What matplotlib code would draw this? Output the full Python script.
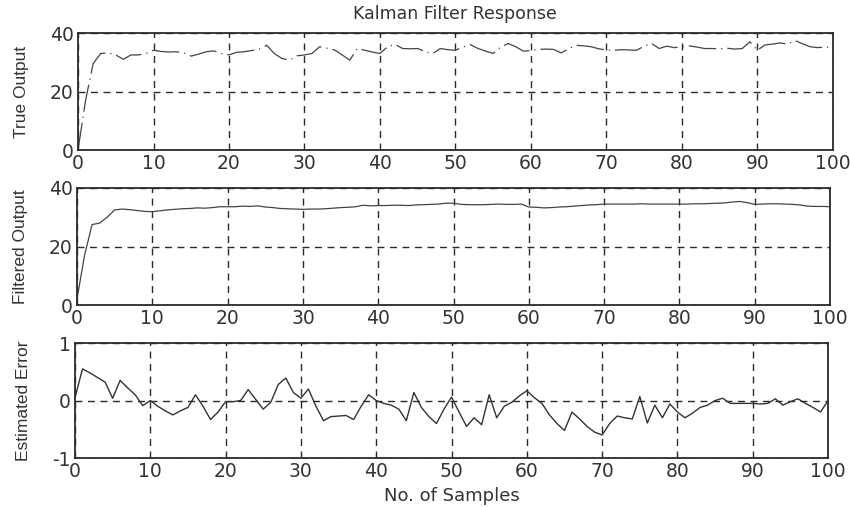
import matplotlib
matplotlib.use('Agg')
import matplotlib.pyplot as plt

plt.rcParams['font.family'] = ['DejaVu Sans']
plt.rcParams['axes.unicode_minus'] = False

# Sample index
samples = list(range(101))

# True output
true_out = [0, 17, 29.5, 33.0, 33.2, 32.5, 31.0, 32.5, 32.5, 33.0,
            34.1, 33.7, 33.5, 33.6, 33.2, 32.1, 32.8, 33.6, 33.9, 33.0,
            32.5, 33.4, 33.6, 34.0, 34.5, 35.8, 33.0, 31.3, 30.7, 32.2,
            32.5, 33.0, 35.3, 34.8, 34.2, 32.5, 30.7, 34.7, 34.1, 33.5,
            33.0, 35.3, 36.1, 34.7, 34.6, 34.7, 33.6, 33.0, 34.7, 34.3,
            34.1, 35.2, 36.0, 34.7, 33.8, 33.0, 35.2, 36.4, 35.3, 33.8,
            34.0, 34.4, 34.5, 34.4, 33.2, 34.6, 35.8, 35.6, 35.3, 34.6,
            34.2, 34.1, 34.3, 34.2, 34.1, 35.5, 36.4, 34.7, 35.5, 35.0,
            35.3, 35.6, 35.2, 34.7, 34.7, 34.6, 34.8, 34.5, 34.7, 37.0,
            34.1, 35.9, 36.2, 36.6, 36.2, 37.4, 36.3, 35.3, 35.0, 35.2,
            35.0]

# Filtered output
filtered_out = [2, 17, 27.5, 28, 30, 32.5, 32.8, 32.6, 32.3, 32.0,
                31.9, 32.2, 32.5, 32.7, 32.9, 33.0, 33.2, 33.1, 33.3, 33.6,
                33.6, 33.6, 33.8, 33.7, 33.9, 33.5, 33.3, 33.0, 32.9, 32.8,
                32.7, 32.8, 32.8, 32.9, 33.1, 33.3, 33.4, 33.6, 34.1, 33.9,
                34.0, 34.0, 34.1, 34.1, 34.0, 34.2, 34.3, 34.4, 34.5, 34.8,
                34.8, 34.4, 34.3, 34.3, 34.3, 34.4, 34.5, 34.4, 34.4, 34.5,
                33.5, 33.4, 33.2, 33.3, 33.5, 33.6, 33.8, 34.0, 34.2, 34.3,
                34.5, 34.5, 34.5, 34.5, 34.5, 34.6, 34.5, 34.5, 34.5, 34.5,
                34.5, 34.5, 34.6, 34.6, 34.7, 34.8, 34.9, 35.2, 35.4, 35.0,
                34.4, 34.5, 34.6, 34.6, 34.5, 34.4, 34.2, 33.8, 33.7, 33.7,
                33.6]

# Estimated error
est_error = [0.05, 0.55, 0.48, 0.40, 0.32, 0.04, 0.35, 0.22, 0.10, -0.09,
             0.00, -0.10, -0.18, -0.25, -0.18, -0.12, 0.10, -0.10, -0.33, -0.20,
             -0.02, -0.02, 0.00, 0.19, 0.02, -0.15, -0.03, 0.28, 0.39, 0.14,
             0.04, 0.20, -0.10, -0.35, -0.28, -0.27, -0.26, -0.33, -0.10, 0.10,
             0.00, -0.05, -0.08, -0.15, -0.35, 0.14, -0.12, -0.28, -0.40, -0.15,
             0.06, -0.20, -0.45, -0.30, -0.42, 0.10, -0.30, -0.10, -0.03, 0.08,
             0.17, 0.05, -0.05, -0.25, -0.40, -0.52, -0.20, -0.32, -0.45, -0.55,
             -0.60, -0.40, -0.27, -0.30, -0.32, 0.07, -0.39, -0.08, -0.30, -0.06,
             -0.20, -0.30, -0.22, -0.12, -0.08, 0.00, 0.04, -0.05, -0.05, -0.05,
             -0.05, -0.06, -0.05, 0.03, -0.08, -0.02, 0.03, -0.05, -0.12, -0.20,
             0.00]

x_ticks = [0, 10, 20, 30, 40, 50, 60, 70, 80, 90, 100]

fig = plt.figure(figsize=(8.5, 5.07), dpi=100)
fig.patch.set_facecolor('white')

ax1 = fig.add_axes([0.0918, 0.7041, 0.888, 0.2308])
ax2 = fig.add_axes([0.0906, 0.3984, 0.886, 0.2308])
ax3 = fig.add_axes([0.0882, 0.0966, 0.886, 0.2268])

ink = '#2a2a2a'
txt = '#333333'

ax1.plot(samples, true_out, color='#444444', linewidth=0.9,
         linestyle=(0, (22, 4, 1, 4)))
ax2.plot(samples, filtered_out, color='#444444', linewidth=0.9)
ax3.plot(samples, est_error, color='#333333', linewidth=1.0)

ax1.set_ylim(0, 40)
ax1.set_yticks([0, 20, 40])
ax2.set_ylim(0, 40)
ax2.set_yticks([0, 20, 40])
ax3.set_ylim(-1, 1)
ax3.set_yticks([-1, 0, 1])

for ax, lab in [(ax1, 'True Output'), (ax2, 'Filtered Output'),
                (ax3, 'Estimated Error')]:
    ax.set_xlim(0, 100)
    ax.set_xticks(x_ticks)
    ax.grid(True, color=ink, linestyle=(0, (5, 4)), linewidth=1.0)
    ax.tick_params(direction='in', length=0, labelsize=13.5,
                   labelcolor=txt, pad=3)
    for s in ax.spines.values():
        s.set_color(ink)
        s.set_linewidth(1.3)
    ax.set_ylabel(lab, fontsize=12.5, color=txt, labelpad=15,
                  family='Liberation Sans')

ax1.set_title('Kalman Filter Response', fontsize=12.5, color=txt, pad=10)
ax3.set_xlabel('No. of Samples', fontsize=13, color=txt, labelpad=4)

plt.savefig('out.png', dpi=100)
